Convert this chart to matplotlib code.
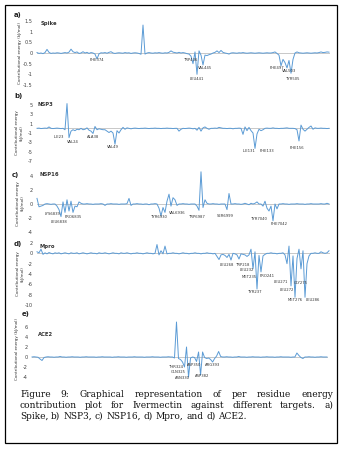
import matplotlib
matplotlib.use("Agg")
import matplotlib.pyplot as plt
import matplotlib.patches as mpatches
import numpy as np

W, H = 341, 449

# ---------------- data (per-residue energy contributions, kJ/mol) ----------------
spike_vals = [
    0.02, -0.02, 0, -0.03, 0.02, 0.17, 0.03, -0.02, 0, -0.01,
    0.01, 0, -0.02, 0, 0.02, 0, 0.04, 0.18, 0.06, 0.02,
    0.05, -0.02, 0, 0.06, 0, 0.03, -0.02, 0.02, 0, -0.05,
    -0.28, -0.04, 0.01, 0, 0.02, -0.01, 0.03, 0.06, 0, -0.02,
    0, 0.01, 0, -0.01, 0.02, 0, 0.01, -0.02, 0, 0.01,
    0, -0.02, -0.06, 1.31, -0.05, 0, 0.02, 0, -0.01, 0.01,
    0, 0.02, 0, -0.01, 0.01, 0, 0.03, 0.1, 0.04, 0.02,
    0, 0.03, 0, 0.02, 0, -0.03, -0.05, -0.15, -0.5, 0.05,
    -1.0, 0.1, -0.1, -0.56, -0.1, -0.12, -0.08, -0.05, 0, 0.03,
    0.1, 0.02, 0.12, 0.03, 0, -0.02, -0.05, 0, 0.01, 0,
    -0.01, 0.01, 0, 0.02, 0, -0.01, 0, 0.01, 0, -0.01,
    0, 0.01, 0, -0.01, 0, 0.01, 0, 0, 0.02, 0.05,
    -0.02, -0.1, -0.6, -0.3, -0.45, -0.7, -0.35, -0.95, -0.3, 0,
    0.05, 0.01, 0, -0.01, 0, 0.01, 0, -0.01, 0, 0.01,
    0, 0.02, 0.05, 0.02, 0.03, 0.05, 0.04,
]

nsp3_vals = [
    0, 0.05, -0.05, 0, 0.05, 0, 0.3, 0, -0.05, 0,
    0.05, 0, -0.05, 0, -0.3, 5.3, -2.0, -0.6, -0.3, -0.5,
    -0.2, -0.3, 0, -0.3, -0.2, 0.1, -0.4, -0.6, -1.1, 0.4,
    -0.3, -0.1, -0.2, -0.3, -0.3, -0.6, -0.9, -0.6, -1.0, -3.4,
    -0.5, -1.0, -0.3, 0.2, -0.2, 0.1, 0, -0.1, 0, 0.05,
    0, -0.05, 0, 0, 0.05, 0, -0.05, 0, 0, 0.05,
    0, 0, -0.05, 0, 0, 0.05, 0, 0, -0.05, 0,
    0, -0.6, -0.2, 0, -0.05, 0, 0.05, 0, -0.1, 0,
    -0.4, 0.2, -0.6, 0.1, 0.3, 0, -0.2, 0, 0, 0.05,
    0, 0.2, 0.1, 0, 0, -0.05, 0, 0, -0.1, 0,
    0, 0.05, 0, -1.3, 0.3, -0.5, 0.2, -0.5, -1.0, -4.3,
    -1.2, -0.2, -0.5, -0.3, 0, 0.05, 0, 0, 0.1, 0,
    0, -0.05, 0, 0, 0.05, 0.1, 0, 0, 0, -0.05,
    -0.3, -2.7, 0.7, -0.2, -0.6, -0.2, 0.2, 0.5, -0.2, 0.1,
    0, 0, 0.05, 0, 0, -0.05, 0,
]

nsp16_vals = [
    0.8, -0.4, -0.3, -0.2, 0, 0.05, 0, -0.05, 0, 0,
    -0.3, -0.8, -1.8, 0.3, -1.2, 0.6, -1.0, 0.4, -1.2, -0.3,
    -0.4, 0.3, 0.1, 0, 0, 0.05, 0, 0, -0.05, 0,
    0, 0, 0.05, 0, -0.2, 0, 0, 0.05, 0, 0,
    0, -0.05, 0, 0, 0, 0.05, 0.8, -0.2, 0, 0,
    0.05, 0, 0, -0.05, 0, 0, -0.1, 0, 0, 0.05,
    0, -0.6, -1.7, -0.5, -1.2, 0.4, 1.4, -0.3, 0.9, 0.6,
    -0.2, 0, 0, 0.05, 0, 0, -0.05, 0, 0, 0,
    -0.3, -0.9, 4.6, -0.5, 0.6, 0.1, 0, 0, 0.05, 0,
    0, -0.05, 0, 0, 0, -0.8, 1.5, 0, 0, 0.05,
    0, 0, -0.05, 0, 0.1, 0, -0.1, 0.1, 0, 0.1,
    0.3, 0, 0, -0.3, 0.4, -0.6, -1.0, -0.3, -2.4, 0,
    -0.7, 0, 0, 0.05, 0, 0, -0.05, 0, 0, 0,
    0.05, 0, 0, 0, -0.05, 0, 0, 0.05, 0, 0,
    0, 0, 0.05, 0, 0, 0.1, 0,
]

mpro_vals = [
    0.3, 0.1, 0.8, -0.2, 0.1, -0.1, 0.15, 0, -0.1, 0.1,
    0, 0.1, -0.1, 0, 0.1, 0, -0.1, 0.1, 0, 0,
    0.1, -0.1, 0, 0.1, 0, -0.1, 0, 0.1, 0, 0,
    -0.1, 0.1, 0, 0, 0.1, 0, -0.1, 0, 0.1, 0,
    0, -0.1, 0.1, 0, 0, 0.1, 0, -0.1, 0, 0,
    0.1, 0, 0, -0.1, 0, 0.1, 0, 0, -0.1, 0,
    1.7, -0.3, 0.5, -0.1, 1.4, -0.1, 0, 0, 0.1, 0,
    0, -0.1, 0, 0.1, 0, 0, -0.1, 0, 0, 0.1,
    0, 0, -0.1, 0, 0, 0.1, 0, 0, -0.1, 0,
    -0.6, -1.2, -0.3, -0.2, -0.4, -0.8, -0.2, -1.3, 0, -0.1,
    -0.3, -1.1, -0.1, -0.2, -0.3, -0.6, -0.3, 0.8, -3.0, 0.3,
    -6.9, -0.4, -3.6, -0.5, -0.2, 0, 0, 0.1, 0, 0,
    -0.1, 0, 0, 0.1, -0.3, -2.0, 1.4, -6.3, -0.5, -8.5,
    -1.0, 0.8, -3.0, 0.5, -8.5, -2.0, -0.5, 0, 0, 0.1,
    0, 0, 0.3, 0.1, 0, 0.1, 0.5,
]

ace2_vals = [
    0, 0.05, 0, -0.05, -0.4, -0.7, -0.1, 0, 0.05, 0,
    0, -0.05, 0, 0, 0.1, 0, 0, -0.05, 0, 0,
    0.05, 0, 0, 0, -0.05, 0, 0, 0.05, 0, 0,
    0, 0, -0.05, 0, 0, 0.05, 0, 0, 0, 0,
    -0.05, 0, 0, 0.05, 0, 0, 0, -0.05, 0, 0,
    0, 0.05, 0, 0, 0, 0, -0.05, 0, 0, 0,
    0.05, 0, 0, 0, -0.05, 0, 0, 0, 0.05, 0,
    0, -0.2, 7.0, -0.3, -0.5, -1.0, -2.0, 2.0, -4.0, -0.2,
    0, -0.1, -0.9, 1.0, -3.6, 1.0, -0.1, -0.3, -0.2, -0.5,
    -1.0, -0.3, 0.2, 1.1, 0.1, 0, 0, 0.05, 0, 0,
    -0.05, 0, 0, 0.1, 0, 0, 0, -0.05, 0, 0,
    0.05, 0, 0, 0, -0.05, 0, 0, 0.05, 0, 0,
    0, -0.05, 0, 0, 0.05, 0, 0, 0, 0, -0.05,
    0, 0, 0.8, 0.3, -0.1, -0.3, 0, 0, 0.05, 0,
    0, -0.05, 0, 0, 0.05, 0, 0, 0,
]

panel_names = ["Spike", "NSP3", "NSP16", "Mpro", "ACE2"]
panel_letters = ["a)", "b)", "c)", "d)", "e)"]
series = [spike_vals, nsp3_vals, nsp16_vals, mpro_vals, ace2_vals]
y_limits = [(-1.5, 1.5), (-7, 5), (-4, 5), (-10, 2), (-4, 7.2)]
y_ticks = [[-1.5, -1, -0.5, 0, 0.5, 1, 1.5],
           [-7, -5, -3, -1, 1, 3, 5],
           [-4, -2, 0, 2, 4],
           [-10, -8, -6, -4, -2, 0, 2],
           [-4, -2, 0, 2, 4, 6]]
y_labels = ["Contributional energy (kJ/mol)",
            "Contributional energy\n(kJ/mol)",
            "Contributional energy\n(kJ/mol)",
            "Contributional energy\n(kJ/mol)",
            "Contributional energy (kJ/mol)"]

# residue annotations: (label, residue index, value at label centre)
residue_labels = [
    [("PHE374", 30, -0.35), ("TRP436", 77, -0.35), ("LEU441", 80, -1.22),
     ("VAL445", 84, -0.7), ("PHE497", 120, -0.7), ("VAL503", 126, -0.85),
     ("TYR505", 128, -1.22)],
    [("ILE23", 11, -1.9), ("VAL24", 18, -3.0), ("ALA38", 28, -1.9),
     ("VAL49", 38, -3.9), ("ILE131", 106, -4.9), ("PHE133", 115, -4.9),
     ("PHE156", 130, -4.2)],
    [("LYS6839", 8, -1.4), ("LEU6838", 11, -2.6), ("PRO6835", 18, -1.85),
     ("TYR6930", 61, -1.85), ("VAL6936", 70, -1.3), ("TRP6987", 80, -1.85),
     ("SER6999", 94, -1.75), ("TYR7040", 111, -2.1), ("PHE7042", 121, -2.85)],
    [("LEU268", 95, -2.3), ("TRP218", 103, -2.3), ("LEU232", 105, -3.2),
     ("MET235", 106, -4.5), ("PRO241", 115, -4.4), ("TYR237", 109, -7.5),
     ("LEU271", 122, -5.5), ("LEU272", 125, -7.1), ("GLY275", 132, -5.7),
     ("MET276", 129, -9.0), ("LEU286", 138, -9.0)],
    [("THR324", 72, -2.0), ("GLN325", 73, -3.0), ("ASN330", 75, -4.2),
     ("ASP350", 81, -1.6), ("ASP382", 85, -3.8), ("ARG393", 90, -1.6)],
]

# ---------------- layout (pixel boxes) ----------------
boxes = [(37, 330, 21, 85), (37, 330, 105, 161), (37, 330, 169, 232),
         (37, 330, 243, 305), (32, 328, 321, 377)]
letter_pos = [(14, 15), (14, 96), (12, 175), (14, 244), (22, 314)]
title_pos = [(41, 24), (38, 104), (40, 175), (39, 246), (38, 334)]
ylab_x = [20, 19, 20, 20, 17]

line_color = "#5B9BD5"

fig = plt.figure(figsize=(W / 100, H / 100), dpi=100)
fig.patch.set_facecolor("white")

for k in range(5):
    l, r, t, b = boxes[k]
    ax = fig.add_axes([l / W, 1 - b / H, (r - l) / W, (b - t) / H])
    vals = series[k]
    x = np.arange(len(vals))
    ax.axhline(0, color="#c8c8c8", lw=0.7, zorder=1)
    ax.plot(x, vals, color=line_color, lw=0.7, zorder=2, clip_on=False)
    ax.set_xlim(0, len(vals) - 0.5)
    ax.set_ylim(*y_limits[k])
    ax.set_yticks(y_ticks[k])
    ax.set_yticklabels([f"{v:g}" for v in y_ticks[k]])
    ax.set_xticks([])
    ax.tick_params(axis="y", length=0, pad=3, labelsize=3.6, labelcolor="#404040")
    for sp in ax.spines.values():
        sp.set_visible(False)
    ax.patch.set_alpha(0)
    for lab, xi, yv in residue_labels[k]:
        ax.text(xi, yv, lab, fontsize=2.7, color="#333333", ha="center", va="center")
    tx, ty = title_pos[k]
    fig.text(tx / W, 1 - ty / H, panel_names[k], fontsize=3.8, fontweight="bold",
             color="#333333", ha="left", va="center")
    lx, ly = letter_pos[k]
    fig.text(lx / W, 1 - ly / H, panel_letters[k], fontsize=5, fontweight="bold",
             color="#222222", ha="left", va="center")
    fig.text(ylab_x[k] / W, 1 - ((t + b) / 2 + (3 if k == 2 else 0)) / H, y_labels[k],
             fontsize=3.0, rotation=90, ha="center", va="center", color="#333333",
             multialignment="center", linespacing=1.1)

# border
fig.add_artist(mpatches.Rectangle((5 / W, 1 - 443 / H), 332 / W, 438 / H,
                                  transform=fig.transFigure, fill=False,
                                  edgecolor="black", lw=0.9))

# caption (justified lines)
caption_lines = [
    "Figure 9: Graphical representation of per residue energy",
    "contribution plot for Ivermectin against different targets. a)",
    "Spike, b) NSP3, c) NSP16, d) Mpro, and d) ACE2.",
]
cap_y = [397, 408, 419]
cap_family = ["DejaVu Serif"]
x0, x1 = 20, 333
fig.canvas.draw()
renderer = fig.canvas.get_renderer()
probe = fig.text(0, 0, caption_lines[2], fontsize=10, family=cap_family)
probe_w = probe.get_window_extent(renderer).width
probe.remove()
cap_fs = 10 * 226.0 / probe_w
for i, line in enumerate(caption_lines):
    words = line.split()
    texts = [fig.text(0, 1 - cap_y[i] / H, w, fontsize=cap_fs, family=cap_family,
                      color="#111111", ha="left", va="baseline") for w in words]
    widths = [t.get_window_extent(renderer).width for t in texts]
    if i < len(caption_lines) - 1:
        gap = (x1 - x0 - sum(widths)) / (len(words) - 1)
    else:
        sp = fig.text(0, 0, "a a", fontsize=cap_fs, family=cap_family)
        aa = fig.text(0, 0, "aa", fontsize=cap_fs, family=cap_family)
        gap = sp.get_window_extent(renderer).width - aa.get_window_extent(renderer).width
        sp.remove(); aa.remove()
    xx = x0
    for t, w in zip(texts, widths):
        t.set_x(xx / W)
        xx += w + gap

fig.savefig("out.png", dpi=100, facecolor="white")
